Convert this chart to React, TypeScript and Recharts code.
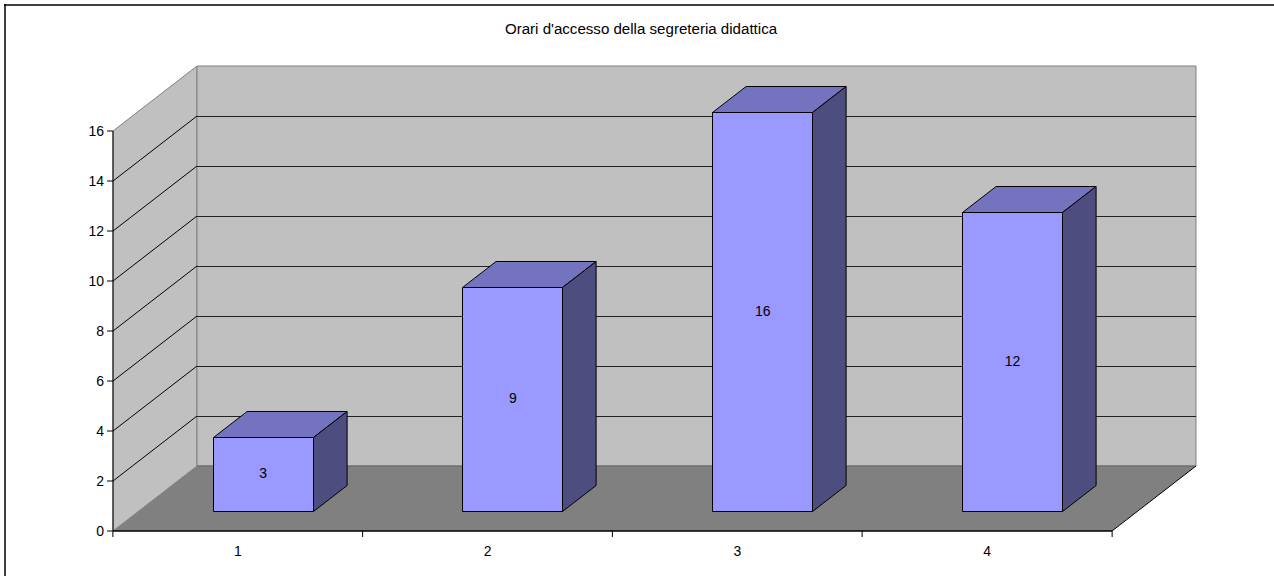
import { BarChart, Bar, XAxis, YAxis, LabelList, usePlotArea } from 'recharts'

const categories = ['1', '2', '3', '4']
const accessi = [3, 9, 16, 12]
const yTicks = [0, 2, 4, 6, 8, 10, 12, 14, 16]

const data = categories.map((name, i) => ({ name, accessi: accessi[i] }))

const FONT = '"Liberation Sans", Arial, sans-serif'
const DEPTH_X = 84
const DEPTH_Y = 65
// the bars sit 30% into the floor and are 40% of the floor deep
const BAR_SHIFT_X = DEPTH_X * 0.3
const BAR_SHIFT_Y = DEPTH_Y * 0.3
const BAR_DX = DEPTH_X * 0.4
const BAR_DY = DEPTH_Y * 0.4

function poly(points: number[][]) {
  return points.map((p) => p.join(',')).join(' ')
}

function Room() {
  const plot = usePlotArea()
  if (!plot) return null
  const { x, y, width, height } = plot
  const bottom = y + height
  const right = x + width
  const yMax = yTicks[yTicks.length - 1]
  return (
    <g>
      <line x1={5} y1={4} x2={5} y2={576} stroke="#000" strokeWidth={1.5} />
      <line x1={4} y1={5} x2={1274} y2={5} stroke="#000" strokeWidth={1.5} />
      <polygon
        points={poly([[x, y], [x + DEPTH_X, y - DEPTH_Y], [x + DEPTH_X, bottom - DEPTH_Y], [x, bottom]])}
        fill="#c0c0c0"
        stroke="#808080"
      />
      <polygon
        points={poly([[x + DEPTH_X, y - DEPTH_Y], [right + DEPTH_X, y - DEPTH_Y], [right + DEPTH_X, bottom - DEPTH_Y], [x + DEPTH_X, bottom - DEPTH_Y]])}
        fill="#c0c0c0"
        stroke="#808080"
      />
      <polygon
        points={poly([[x, bottom], [x + DEPTH_X, bottom - DEPTH_Y], [right + DEPTH_X, bottom - DEPTH_Y], [right, bottom]])}
        fill="#808080"
      />
      <line x1={x + DEPTH_X} y1={bottom - DEPTH_Y} x2={right + DEPTH_X} y2={bottom - DEPTH_Y} stroke="#666" />
      <line x1={right} y1={bottom} x2={right + DEPTH_X} y2={bottom - DEPTH_Y} stroke="#000" />
      {yTicks
        .filter((t) => t > 0 && t < yMax)
        .map((t) => {
          const ty = bottom - (t / yMax) * height
          return (
            <g key={t}>
              <line x1={x} y1={ty} x2={x + DEPTH_X} y2={ty - DEPTH_Y} stroke="#000" />
              <line x1={x + DEPTH_X} y1={ty - DEPTH_Y + 0.5} x2={right + DEPTH_X} y2={ty - DEPTH_Y + 0.5} stroke="#222" strokeWidth={1.2} />
            </g>
          )
        })}
      <text x={641} y={34} textAnchor="middle" fontFamily={FONT} fontSize={15.1} fill="#000">
        Orari d'accesso della segreteria didattica
      </text>
    </g>
  )
}

function Box3D(props: any) {
  const { x, y, width, height } = props
  const l = Math.floor(x + BAR_SHIFT_X) + 0.5
  const r = l + width
  const t = Math.round(y - BAR_SHIFT_Y) + 0.5
  const b = Math.floor(y - BAR_SHIFT_Y + height) + 0.5
  return (
    <g stroke="#000" strokeLinejoin="round">
      <polygon points={poly([[l, t], [l + BAR_DX, t - BAR_DY], [r + BAR_DX, t - BAR_DY], [r, t]])} fill="#7373bf" />
      <polygon points={poly([[r, t], [r + BAR_DX, t - BAR_DY], [r + BAR_DX, b - BAR_DY], [r, b]])} fill="#4d4d80" />
      <rect x={l} y={t} width={width} height={b - t} fill="#9999ff" />
    </g>
  )
}

function BarValue(props: any) {
  const { x, y, width, height, value } = props
  return (
    <text
      x={x + BAR_SHIFT_X + width / 2}
      y={y - BAR_SHIFT_Y + height / 2 + 4}
      textAnchor="middle"
      fontFamily={FONT}
      fontSize={14}
      fill="#000"
    >
      {value}
    </text>
  )
}

function CategoryTick(props: any) {
  const { x, y, index, payload } = props
  const step = 250
  const axisY = y - 8
  return (
    <g>
      <line x1={x - step / 2} y1={axisY} x2={x - step / 2} y2={axisY + 6} stroke="#000" />
      {index === categories.length - 1 && (
        <line x1={x + step / 2} y1={axisY} x2={x + step / 2} y2={axisY + 6} stroke="#000" />
      )}
      <text x={x} y={axisY + 25} textAnchor="middle" fontFamily={FONT} fontSize={14} fill="#000">
        {payload.value}
      </text>
    </g>
  )
}

export default function App() {
  return (
    <div style={{ position: 'absolute', left: 0, top: 0 }}>
      <BarChart
        width={1274}
        height={576}
        data={data}
        margin={{ top: 131, right: 162, bottom: 0, left: 63 }}
        barCategoryGap={0}
      >
        <Room />
        <XAxis
          dataKey="name"
          height={45}
          interval={0}
          tickLine={false}
          axisLine={{ stroke: '#000', strokeWidth: 1.5 }}
          tick={<CategoryTick />}
        />
        <YAxis
          width={50}
          domain={[0, 16]}
          ticks={yTicks}
          interval={0}
          tickSize={6}
          tickMargin={3}
          tickLine={{ stroke: '#000' }}
          axisLine={{ stroke: '#000' }}
          tick={{ fill: '#000', fontSize: 14, fontFamily: FONT }}
        />
        <Bar dataKey="accessi" barSize={100} shape={<Box3D />} isAnimationActive={false}>
          <LabelList dataKey="accessi" content={<BarValue />} />
        </Bar>
      </BarChart>
    </div>
  )
}
